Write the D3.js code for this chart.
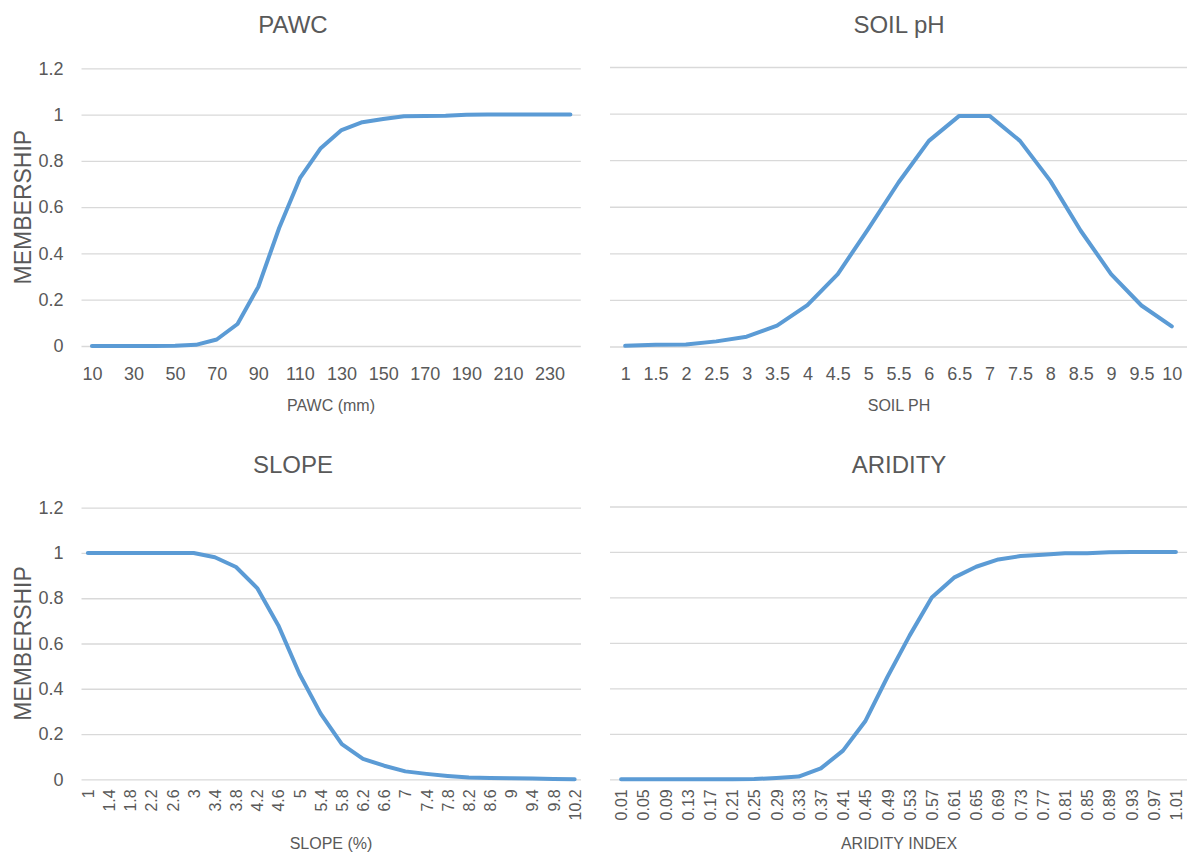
<!DOCTYPE html>
<html>
<head>
<meta charset="utf-8">
<script src="https://cdn.jsdelivr.net/npm/d3@7"></script>
<style>
  html, body { margin: 0; padding: 0; background: #ffffff; }
  svg { display: block; }
</style>
</head>
<body>
<svg id="chart" width="1195" height="858"></svg>
<script>
// ---------------- DATA ----------------
const yTicks = [0, 0.2, 0.4, 0.6, 0.8, 1, 1.2];

const pawcCats = [10,20,30,40,50,60,70,80,90,100,110,120,130,140,150,160,170,180,190,200,210,220,230,240];
const pawcVals = [0,0,0,0,0.001,0.005,0.028,0.095,0.256,0.51,0.725,0.855,0.933,0.967,0.981,0.993,0.994,0.995,0.999,1,1,1,1,1];
const pawcTickLabels = [10,30,50,70,90,110,130,150,170,190,210,230];

const phCats = [1,1.5,2,2.5,3,3.5,4,4.5,5,5.5,6,6.5,7,7.5,8,8.5,9,9.5,10];
const phVals = [0.003,0.008,0.009,0.022,0.042,0.09,0.178,0.311,0.504,0.704,0.883,0.99,0.99,0.883,0.711,0.497,0.311,0.176,0.086];

const slopeCats = [1,1.4,1.8,2.2,2.6,3,3.4,3.8,4.2,4.6,5,5.4,5.8,6.2,6.6,7,7.4,7.8,8.2,8.6,9,9.4,9.8,10.2];
const slopeVals = [1,1,1,1,1,1,0.981,0.938,0.845,0.68,0.465,0.29,0.155,0.09,0.06,0.035,0.024,0.015,0.008,0.006,0.005,0.003,0.001,0];

const aridCats = [0.01,0.05,0.09,0.13,0.17,0.21,0.25,0.29,0.33,0.37,0.41,0.45,0.49,0.53,0.57,0.61,0.65,0.69,0.73,0.77,0.81,0.85,0.89,0.93,0.97,1.01];
const aridVals = [0,0,0,0,0,0,0.001,0.006,0.012,0.048,0.126,0.255,0.45,0.632,0.8,0.887,0.935,0.967,0.982,0.988,0.994,0.994,0.999,1,1,1];

const titles = ["PAWC", "SOIL pH", "SLOPE", "ARIDITY"];
const xTitles = ["PAWC (mm)", "SOIL PH", "SLOPE (%)", "ARIDITY INDEX"];
const yTitle = "MEMBERSHIP";

// ---------------- STYLE / LAYOUT ----------------
const FONT = "'Liberation Sans Narrow', 'Arial Narrow', 'Liberation Sans', sans-serif";
const TEXT = "#595959";
const GRID = "#d9d9d9";
const LINE = "#5b9bd5";

const panels = [
  { cats: pawcCats, vals: pawcVals, labels: pawcTickLabels, title: titles[0], xTitle: xTitles[0],
    x0: 81.5, x1: 580.8, yTop: 68.3, yBot: 346, pad: 0.5, yAxis: true, rotate: false,
    titleX: 293, titleY: 33, xTitleX: 331, xTitleY: 411, yTitleX: 23 },
  { cats: phCats, vals: phVals, labels: phCats, title: titles[1], xTitle: xTitles[1],
    x0: 610, x1: 1187, yTop: 67, yBot: 346.5, pad: 0.5, yAxis: false, rotate: false,
    titleX: 899, titleY: 33, xTitleX: 899, xTitleY: 411 },
  { cats: slopeCats, vals: slopeVals, labels: slopeCats, title: titles[2], xTitle: xTitles[2],
    x0: 81.5, x1: 581, yTop: 507.7, yBot: 779.3, pad: 0.3, yAxis: true, rotate: true,
    titleX: 293, titleY: 473, xTitleX: 331, xTitleY: 849, yTitleX: 23 },
  { cats: aridCats, vals: aridVals, labels: aridCats, title: titles[3], xTitle: xTitles[3],
    x0: 610, x1: 1187, yTop: 506.5, yBot: 779.3, pad: 0.5, yAxis: false, rotate: true,
    titleX: 899, titleY: 473, xTitleX: 899, xTitleY: 849 }
];

const svg = d3.select("#chart");

panels.forEach(p => {
  const g = svg.append("g");
  const x = d3.scalePoint().domain(p.cats).range([p.x0, p.x1]).padding(p.pad);
  const y = d3.scaleLinear().domain([0, 1.2]).range([p.yBot, p.yTop]);

  // gridlines
  const grid = g.append("g")
    .attr("transform", `translate(${p.x0},0)`)
    .call(d3.axisLeft(y).tickValues(yTicks).tickSize(-(p.x1 - p.x0)).tickFormat(""));
  grid.select(".domain").remove();
  grid.selectAll("line").attr("stroke", GRID).attr("stroke-width", 1.3);

  // y labels
  if (p.yAxis) {
    const ya = g.append("g")
      .attr("transform", `translate(${p.x0},0)`)
      .call(d3.axisLeft(y).tickValues(yTicks).tickSize(0).tickPadding(18)
        .tickFormat(d => d3.format("~g")(d)));
    ya.select(".domain").remove();
    ya.selectAll("text").attr("font-family", FONT).attr("font-size", 18).attr("fill", TEXT);

    g.append("text")
      .attr("transform", `translate(${p.yTitleX},${(p.yTop + p.yBot) / 2}) rotate(-90)`)
      .attr("text-anchor", "middle")
      .attr("dy", "0.36em")
      .attr("font-family", "'Liberation Sans', Arial, sans-serif")
      .attr("font-size", 23)
      .attr("fill", TEXT)
      .text(yTitle);
  }

  // x labels
  const xa = g.append("g")
    .attr("transform", `translate(0,${p.yBot})`)
    .call(d3.axisBottom(x).tickValues(p.labels).tickSize(0).tickPadding(21).tickFormat(d => String(d)));
  xa.select(".domain").remove();
  xa.selectAll("text").attr("font-family", FONT).attr("font-size", 18).attr("fill", TEXT);
  if (p.rotate) {
    xa.selectAll("text")
      .attr("font-size", 16)
      .attr("y", 0).attr("dy", "0.35em")
      .attr("text-anchor", "end")
      .attr("transform", "translate(0,10) rotate(-90)");
  }

  // line
  const pts = p.cats.map((c, i) => [x(c), y(p.vals[i])]);
  g.append("path")
    .attr("d", d3.line()(pts))
    .attr("fill", "none")
    .attr("stroke", LINE)
    .attr("stroke-width", 4)
    .attr("stroke-linejoin", "round")
    .attr("stroke-linecap", "round");

  // titles
  g.append("text")
    .attr("x", p.titleX).attr("y", p.titleY)
    .attr("text-anchor", "middle")
    .attr("font-family", FONT).attr("font-size", 24).attr("fill", TEXT)
    .text(p.title);
  g.append("text")
    .attr("x", p.xTitleX).attr("y", p.xTitleY)
    .attr("text-anchor", "middle")
    .attr("font-family", FONT).attr("font-size", 16).attr("fill", TEXT)
    .text(p.xTitle);
});
</script>
</body>
</html>
